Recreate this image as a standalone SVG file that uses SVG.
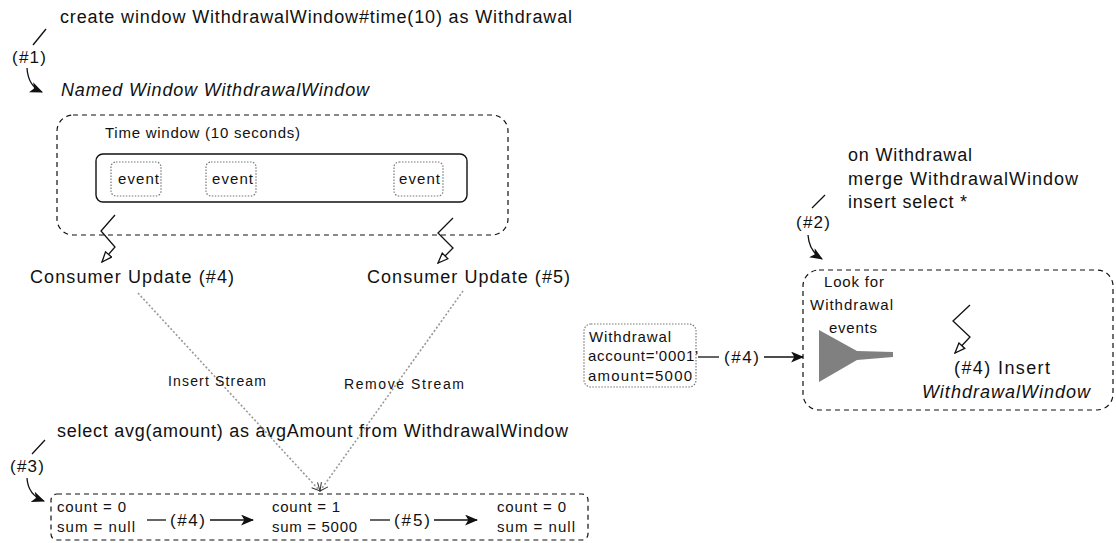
<svg xmlns="http://www.w3.org/2000/svg" width="1116" height="543" viewBox="0 0 1116 543">
<defs>
<style>
text{font-family:"Liberation Sans",Arial,sans-serif;fill:#111}
.big{font-size:18px}
.mid{font-size:17px}
.sm{font-size:15px}
.xs{font-size:14px}
.it{font-style:italic}
.dash{fill:none;stroke:#111;stroke-width:1.2;stroke-dasharray:5,4}
.solid{fill:none;stroke:#111;stroke-width:1.4}
.dot{fill:#fff;stroke:#777;stroke-width:1.2;stroke-dasharray:1.5,1.5}
.ln{fill:none;stroke:#111;stroke-width:1.3}
.dl{fill:none;stroke:#999;stroke-width:1.6;stroke-dasharray:2,2}
</style>
<marker id="af" viewBox="0 0 12 10" refX="11" refY="5" markerWidth="13" markerHeight="11" markerUnits="userSpaceOnUse" orient="auto">
<path d="M0,0 L12,5 L0,10 L3,5 z" fill="#111"/>
</marker>
<marker id="ao" viewBox="0 0 12 10" refX="11" refY="5" markerWidth="12" markerHeight="10" markerUnits="userSpaceOnUse" orient="auto">
<path d="M1,1 L11,5 L1,9 z" fill="#fff" stroke="#111" stroke-width="1.3"/>
</marker>
<marker id="av" viewBox="0 0 10 10" refX="9" refY="5" markerWidth="10" markerHeight="10" markerUnits="userSpaceOnUse" orient="auto">
<path d="M1,1 L9,5 L1,9" fill="none" stroke="#333" stroke-width="1"/>
</marker>
</defs>
<rect width="1116" height="543" fill="#fff"/>

<g id="stmt1">
<text class="big" x="60" y="23" textLength="512">create window WithdrawalWindow#time(10) as Withdrawal</text>
<text class="mid" x="12" y="63" textLength="34">(#1)</text>
</g>
<g id="named-window-label">
<text class="big it" x="61" y="96" textLength="308">Named Window WithdrawalWindow</text>
</g>
<g id="named-window">
<rect class="dash" x="57" y="115" width="451" height="120" rx="16"/>
<text class="sm" x="105" y="138" textLength="195">Time window (10 seconds)</text>
</g>
<g id="time-window">
<rect class="solid" x="96" y="154" width="371" height="48" rx="7"/>
</g>
<g id="event1">
<rect class="dot" x="111" y="162" width="50" height="34" rx="5"/>
<text class="sm" x="118" y="184" textLength="41">event</text>
</g>
<g id="event2">
<rect class="dot" x="206" y="162" width="50" height="34" rx="5"/>
<text class="sm" x="212" y="184" textLength="41">event</text>
</g>
<g id="event3">
<rect class="dot" x="394" y="162" width="49" height="34" rx="5"/>
<text class="sm" x="399" y="184" textLength="41">event</text>
</g>
<g id="consumer4">
<text class="big" x="30" y="283" textLength="204">Consumer Update (#4)</text>
</g>
<g id="consumer5">
<text class="big" x="367" y="283" textLength="203">Consumer Update (#5)</text>
</g>
<g id="stmt3">
<text class="big" x="57" y="437" textLength="511">select avg(amount) as avgAmount from WithdrawalWindow</text>
<text class="mid" x="10" y="472" textLength="34">(#3)</text>
</g>
<g id="aggregation">
<rect class="dash" x="51" y="494" width="537" height="46" rx="6"/>
<text class="sm" x="57" y="512" textLength="69">count = 0</text>
<text class="sm" x="57" y="532" textLength="78">sum = null</text>
<text class="sm" x="272" y="512" textLength="68">count = 1</text>
<text class="sm" x="272" y="532" textLength="85">sum = 5000</text>
<text class="sm" x="497" y="512" textLength="69">count = 0</text>
<text class="sm" x="497" y="532" textLength="78">sum = null</text>
</g>
<g id="stmt2">
<text class="big" x="848" y="161" textLength="124">on Withdrawal</text>
<text class="big" x="848" y="185" textLength="230">merge WithdrawalWindow</text>
<text class="big" x="848" y="208" textLength="119">insert select *</text>
<text class="mid" x="796" y="228" textLength="34">(#2)</text>
</g>
<g id="merge">
<rect class="dash" x="803" y="270" width="310" height="140" rx="16"/>
<text class="sm" x="824" y="287" textLength="60">Look for</text>
<text class="sm" x="810" y="310" textLength="83">Withdrawal</text>
<text class="sm" x="829" y="333" textLength="48">events</text>
<polygon points="819,330 857,351 893,352 893,357 857,360 819,382" fill="#808080"/>
<text class="big" x="954" y="374" textLength="96">(#4) Insert</text>
<text class="big it" x="922" y="398" textLength="168">WithdrawalWindow</text>
</g>
<g id="withdrawal-event">
<rect class="dot" x="584" y="324" width="112" height="63" rx="7"/>
<text class="sm" x="589" y="342" textLength="82">Withdrawal</text>
<text class="sm" x="588" y="361" textLength="110">account='0001'</text>
<text class="sm" x="588" y="381" textLength="104">amount=5000</text>
</g>

<g id="connectors">
<path class="ln" d="M33,45 L46,29"/>
<path class="ln" d="M27,68 Q28,86 42,92" marker-end="url(#af)"/>
<path class="ln" d="M32,454 L45,440"/>
<path class="ln" d="M27,478 Q28,495 44,501" marker-end="url(#af)"/>
<path class="ln" d="M812,208 L825,195"/>
<path class="ln" d="M808,235 Q809,251 822,259" marker-end="url(#af)"/>
<polyline class="ln" points="115,215 101,231 115,247 102,262" marker-end="url(#ao)"/>
<polyline class="ln" points="453,218 438,233 453,248 438,263" marker-end="url(#ao)"/>
<polyline class="ln" points="970,305 953,321 970,337 955,353" marker-end="url(#ao)"/>
<path class="dl" d="M138,293 L320,491" marker-end="url(#av)"/>
<path class="dl" d="M463,291 L320,491" marker-end="url(#av)"/>
<text class="xs" x="168" y="386" textLength="98">Insert Stream</text>
<text class="xs" x="344" y="389" textLength="120">Remove Stream</text>
<path class="ln" d="M147,520 L166,520"/>
<text class="mid" x="170" y="526" textLength="35">(#4)</text>
<path class="ln" d="M210,520 L253,520" marker-end="url(#af)"/>
<path class="ln" d="M370,520 L390,520"/>
<text class="mid" x="394" y="526" textLength="36">(#5)</text>
<path class="ln" d="M434,520 L477,520" marker-end="url(#af)"/>
<path class="ln" d="M698,357 L719,357"/>
<text class="mid" x="724" y="363" textLength="35">(#4)</text>
<path class="ln" d="M764,357 L803,357" marker-end="url(#af)"/>
</g>
</svg>
